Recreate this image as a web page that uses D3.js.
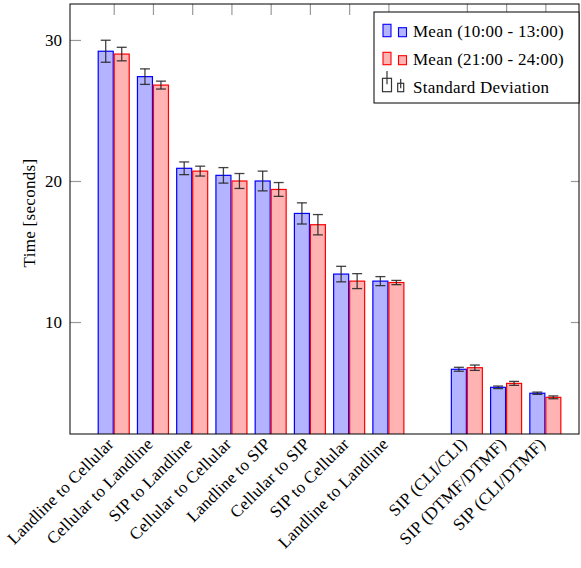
<!DOCTYPE html>
<html>
<head>
<meta charset="utf-8">
<script src="https://cdn.jsdelivr.net/npm/d3@7"></script>
<style>
  body { margin: 0; background: #fff; }
  text { font-family: "Liberation Serif", "DejaVu Serif", serif; }
</style>
</head>
<body>
<div id="visualization"></div>
<script>
// data (blank slot = gap between the two groups)
var categories = ["Landline to Cellular", "Cellular to Landline", "SIP to Landline",
  "Cellular to Cellular", "Landline to SIP", "Cellular to SIP", "SIP to Cellular",
  "Landline to Landline", "", "SIP (CLI/CLI)", "SIP (DTMF/DTMF)", "SIP (CLI/DTMF)"];
var meanMorning = [29.2, 27.4, 20.9, 20.4, 20.0, 17.7, 13.4, 12.9, null, 6.65, 5.37, 4.95];
var sdMorning = [0.78, 0.55, 0.45, 0.55, 0.7, 0.75, 0.55, 0.32, null, 0.14, 0.09, 0.08];
var meanEvening = [29.0, 26.8, 20.7, 20.0, 19.4, 16.9, 12.9, 12.8, null, 6.76, 5.65, 4.66];
var sdEvening = [0.48, 0.28, 0.35, 0.53, 0.49, 0.72, 0.53, 0.15, null, 0.19, 0.14, 0.1];
var yTicks = [10, 20, 30];
var legendLabels = ["Mean (10:00 - 13:00)", "Mean (21:00 - 24:00)", "Standard Deviation"];

var W = 581, H = 568;
var margin = { top: 4, right: 2, bottom: 134, left: 70 };
var width = W - margin.left - margin.right;
var height = H - margin.top - margin.bottom;
var barW = 16;
var fs = 17;

var svg = d3.select("#visualization")
  .append("svg")
  .attr("width", W)
  .attr("height", H)
  .append("g")
  .attr("transform", "translate(" + margin.left + "," + margin.top + ")");

var xScale = d3.scaleLinear()
  .domain([-1.114, 11.858])
  .range([0, width]);

var yScale = d3.scaleLinear()
  .domain([2.06, 32.55])
  .range([height, 0]);

svg.append("clipPath").attr("id", "clip")
  .append("rect").attr("width", width).attr("height", height);

var plot = svg.append("g").attr("clip-path", "url(#clip)");

var series = [
  { mean: meanMorning, sd: sdMorning, fill: "#b3b3ff", stroke: "#0000ff", off: -barW },
  { mean: meanEvening, sd: sdEvening, fill: "#ffb3b3", stroke: "#ff0000", off: 0 }
];

var idx = categories.map(function (c, i) { return i; });

series.forEach(function (s) {
  var pts = idx.filter(function (i) { return s.mean[i] != null; });
  plot.selectAll(null)
    .data(pts)
    .enter()
    .append("rect")
    .attr("x", function (i) { return xScale(i) + s.off + 0.5; })
    .attr("y", function (i) { return yScale(s.mean[i]); })
    .attr("width", barW - 1)
    .attr("height", function (i) { return height - yScale(s.mean[i]) + 2; })
    .attr("fill", s.fill)
    .attr("stroke", s.stroke)
    .attr("stroke-width", 1.2);

  var eb = plot.selectAll(null)
    .data(pts)
    .enter()
    .append("g")
    .attr("stroke", "#222")
    .attr("stroke-opacity", 0.85)
    .attr("stroke-width", 1.3);
  eb.append("line")
    .attr("x1", function (i) { return xScale(i) + s.off + barW / 2; })
    .attr("x2", function (i) { return xScale(i) + s.off + barW / 2; })
    .attr("y1", function (i) { return yScale(s.mean[i] + s.sd[i]); })
    .attr("y2", function (i) { return yScale(s.mean[i] - s.sd[i]); });
  [1, -1].forEach(function (sign) {
    eb.append("line")
      .attr("x1", function (i) { return xScale(i) + s.off + barW / 2 - 5; })
      .attr("x2", function (i) { return xScale(i) + s.off + barW / 2 + 5; })
      .attr("y1", function (i) { return yScale(s.mean[i] + sign * s.sd[i]); })
      .attr("y2", function (i) { return yScale(s.mean[i] + sign * s.sd[i]); });
  });
});

// ticks (inside, gray) on left/right and top
var labelled = idx.filter(function (i) { return categories[i] !== ""; });
svg.append("g")
  .call(d3.axisLeft(yScale).tickValues(yTicks).tickSize(-11).tickPadding(8))
  .call(function (g) {
    g.select(".domain").remove();
    g.selectAll(".tick line").attr("stroke", "#999").attr("stroke-width", 1.2);
    g.selectAll(".tick text").attr("font-size", fs).attr("fill", "#000")
      .attr("font-family", "Liberation Serif");
  });
svg.append("g")
  .attr("transform", "translate(" + width + ",0)")
  .call(d3.axisRight(yScale).tickValues(yTicks).tickSize(-8).tickFormat(""))
  .call(function (g) {
    g.select(".domain").remove();
    g.selectAll(".tick line").attr("stroke", "#999").attr("stroke-width", 1.2);
  });
svg.append("g")
  .call(d3.axisTop(xScale).tickValues(labelled).tickSize(-11).tickFormat(""))
  .call(function (g) {
    g.select(".domain").remove();
    g.selectAll(".tick line").attr("stroke", "#999").attr("stroke-width", 1.2);
  });

// category labels, rotated
svg.append("g")
  .selectAll("text")
  .data(labelled)
  .enter()
  .append("text")
  .attr("transform", function (i) {
    return "translate(" + (xScale(i) + 1) + "," + (height + 11) + ") rotate(-45)";
  })
  .attr("text-anchor", "end")
  .attr("font-size", fs)
  .attr("letter-spacing", 0.25)
  .text(function (i) { return categories[i]; });

// frame
svg.append("rect")
  .attr("width", width)
  .attr("height", height)
  .attr("fill", "none")
  .attr("stroke", "#000")
  .attr("stroke-width", 1);

svg.append("text")
  .attr("transform", "translate(" + (35 - margin.left) + "," + (213 - margin.top) + ") rotate(-90)")
  .attr("text-anchor", "middle")
  .attr("font-size", fs)
  .attr("letter-spacing", 0.3)
  .text("Time [seconds]");

// legend
var lg = svg.append("g").attr("transform", "translate(" + (374 - margin.left) + "," + (12 - margin.top) + ")");
lg.append("rect")
  .attr("width", 205)
  .attr("height", 91)
  .attr("fill", "#fff")
  .attr("stroke", "#000");

series.forEach(function (s, k) {
  var base = 24.7 + k * 28;
  lg.append("rect").attr("x", 9).attr("y", base - 12.4).attr("width", 8).attr("height", 12.4)
    .attr("fill", s.fill).attr("stroke", s.stroke).attr("stroke-width", 1.1);
  lg.append("rect").attr("x", 24.5).attr("y", base - 9).attr("width", 8).attr("height", 9)
    .attr("fill", s.fill).attr("stroke", s.stroke).attr("stroke-width", 1.1);
});

var sdBase = 79.7;
[{ x: 8.5, w: 9, h: 13.4, top: 59, bot: 72.3 }, { x: 23.7, w: 6, h: 8.4, top: 67, bot: 76.3 }].forEach(function (ic) {
  lg.append("rect").attr("x", ic.x).attr("y", sdBase - ic.h).attr("width", ic.w).attr("height", ic.h)
    .attr("fill", "none").attr("stroke", "#333").attr("stroke-width", 1.2);
  lg.append("line").attr("x1", ic.x + ic.w / 2).attr("x2", ic.x + ic.w / 2)
    .attr("y1", ic.top).attr("y2", ic.bot)
    .attr("stroke", "#333").attr("stroke-width", 1.2);
});

lg.selectAll(null)
  .data(legendLabels)
  .enter()
  .append("text")
  .attr("x", 39)
  .attr("y", function (d, k) { return 24.7 + k * 28; })
  .attr("font-size", fs)
  .attr("letter-spacing", 0.25)
  .text(function (d) { return d; });
</script>
</body>
</html>
